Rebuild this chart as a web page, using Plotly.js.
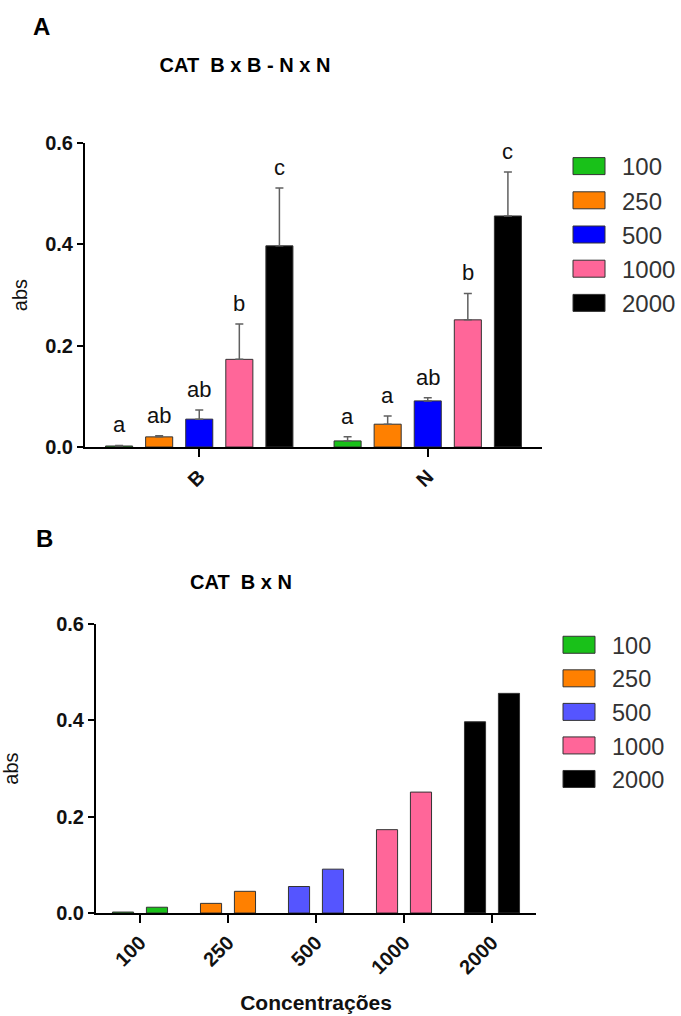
<!DOCTYPE html>
<html><head><meta charset="utf-8">
<script src="https://cdn.plot.ly/plotly-3.0.1.min.js"></script>
<style>html,body{margin:0;padding:0;background:#fff;}#chart{width:681px;height:1016px;}</style>
</head><body><div id="chart"></div>
<script>
// ---- data ----
const concentrations = ['100', '250', '500', '1000', '2000'];
const groups = ['B', 'N'];
const meanB = [0.002, 0.020, 0.055, 0.173, 0.397];
const meanN = [0.012, 0.045, 0.091, 0.251, 0.456];
const errB = [0.001, 0.002, 0.018, 0.070, 0.114];
const errN = [0.008, 0.016, 0.006, 0.052, 0.087];
const lettersB = ['a', 'ab', 'ab', 'b', 'c'];
const lettersN = ['a', 'a', 'ab', 'b', 'c'];
const yTickVals = [0, 0.2, 0.4, 0.6];

// ---- styles ----
const colorsA = ['#19c119', '#ff8000', '#0000ff', '#ff6699', '#000000'];
const colorsB = ['#19c119', '#ff8000', '#5555ff', '#ff6699', '#000000'];
const W = 681, H = 1016;
const px = p => p / W;
const py = p => 1 - p / H;
const FONT = 'Liberation Sans, Arial, sans-serif';
const BARGAP = 0.123, BARGROUPGAP = 0.325;
const outline = {color: '#333333', width: 1};

const data = [];
concentrations.forEach((c, i) => {
  data.push({
    type: 'bar', name: c, x: groups, y: [meanB[i], meanN[i]],
    marker: {color: colorsA[i], line: outline},
    error_y: {type: 'data', symmetric: false, array: [errB[i], errN[i]], arrayminus: [0, 0],
              color: '#606060', thickness: 1.5, width: 4},
    xaxis: 'x', yaxis: 'y', legend: 'legend'
  });
});
// bottom chart: one trace per concentration, holding its B and N bars side by side
const bw2 = 0.24, sep2 = 0.193;
concentrations.forEach((c, i) => {
  data.push({
    type: 'bar', name: c, x: [c, c], y: [meanB[i], meanN[i]],
    width: bw2, offset: [-sep2 - bw2 / 2, sep2 - bw2 / 2],
    marker: {color: colorsB[i], line: outline},
    xaxis: 'x2', yaxis: 'y2', legend: 'legend2'
  });
});

// significance letters
const annotations = [];
const slot = (1 - BARGAP) / concentrations.length;
concentrations.forEach((c, i) => {
  const off = -(1 - BARGAP) / 2 + (i + 0.5) * slot;
  [[meanB, errB, lettersB], [meanN, errN, lettersN]].forEach((g, gi) => {
    annotations.push({xref: 'x', yref: 'y', x: gi + off, y: g[0][i] + g[1][i], text: g[2][i],
      showarrow: false, yanchor: 'bottom', yshift: 6, font: {family: FONT, size: 22, color: '#111'}});
  });
});
annotations.push({xref: 'paper', yref: 'paper', x: px(41), y: py(27), text: 'A', showarrow: false,
  xanchor: 'center', yanchor: 'middle', font: {family: FONT, size: 24, weight: 'bold', color: '#000'}});
annotations.push({xref: 'paper', yref: 'paper', x: px(44), y: py(538), text: 'B', showarrow: false,
  xanchor: 'center', yanchor: 'middle', font: {family: FONT, size: 24, weight: 'bold', color: '#000'}});
annotations.push({xref: 'paper', yref: 'paper', x: px(241), y: py(582), text: 'CAT\u00a0\u00a0B x N', showarrow: false,
  xanchor: 'center', yanchor: 'middle', font: {family: FONT, size: 20, weight: 'bold', color: '#000'}});

const tickFont = {family: FONT, size: 20, weight: 'bold', color: '#111'};
const axisBase = {showline: true, linecolor: '#000', linewidth: 2, ticks: 'outside', tickcolor: '#000',
  tickwidth: 2, showgrid: false, zeroline: false, fixedrange: true, automargin: false, tickfont: tickFont};

const legendBase = {xanchor: 'left', yanchor: 'top',
  itemwidth: 46, bgcolor: 'rgba(0,0,0,0)', borderwidth: 0, traceorder: 'normal', orientation: 'v'};

const layout = {
  width: W, height: H, margin: {l: 0, r: 0, t: 0, b: 0}, paper_bgcolor: '#fff', plot_bgcolor: '#fff',
  barmode: 'group', bargap: BARGAP, bargroupgap: BARGROUPGAP, showlegend: true,
  font: {family: FONT},
  title: {text: 'CAT\u00a0\u00a0B x B - N x N', x: px(245), y: py(65), xref: 'paper', yref: 'paper',
    xanchor: 'center', yanchor: 'middle', font: {family: FONT, size: 20, weight: 'bold', color: '#000'}},
  xaxis: Object.assign({}, axisBase, {domain: [px(85), px(542)], anchor: 'y', type: 'category',
    range: [-0.5, 1.5], tickangle: -45, ticklen: 8}),
  yaxis: Object.assign({}, axisBase, {domain: [py(447), py(143)], anchor: 'x', range: [0, 0.6],
    tickvals: yTickVals, tickformat: '.1f', ticklen: 6,
    title: {text: 'abs', standoff: 12, font: {family: FONT, size: 20, color: '#111'}}}),
  xaxis2: Object.assign({}, axisBase, {domain: [px(96), px(536)], anchor: 'y2', type: 'category',
    range: [-0.5, 4.5], tickangle: -45, ticklen: 8,
    title: {text: 'Concentrações', standoff: 18, font: {family: FONT, size: 21, weight: 'bold', color: '#111'}}}),
  yaxis2: Object.assign({}, axisBase, {domain: [py(913), py(624)], anchor: 'x2', range: [0, 0.6],
    tickvals: yTickVals, tickformat: '.1f', ticklen: 6,
    title: {text: 'abs', standoff: 47, font: {family: FONT, size: 20, color: '#111'}}}),
  legend: Object.assign({}, legendBase, {x: px(566), y: py(144),
    font: {family: FONT, size: 24, color: '#333'}}),
  legend2: Object.assign({}, legendBase, {x: px(556), y: py(623),
    font: {family: FONT, size: 23.5, color: '#333'}}),
  annotations: annotations
};

Plotly.newPlot('chart', data, layout, {staticPlot: true, displayModeBar: false}).then(gd => {
  gd.querySelectorAll('.legendpoints path').forEach(p => {
    p.setAttribute('d', 'M11,8.5H-21V-8.5H11Z');
  });
});
</script>
</body></html>
